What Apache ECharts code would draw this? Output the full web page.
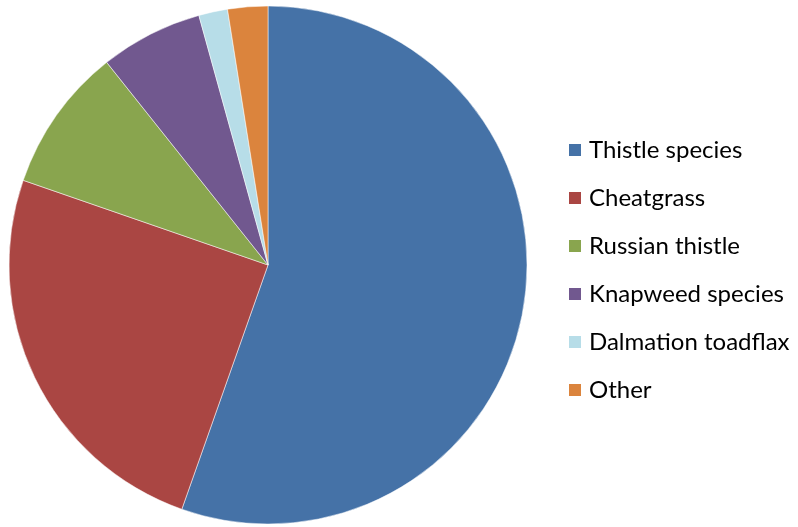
<!DOCTYPE html>
<html>
<head>
<meta charset="utf-8">
<script src="https://cdn.jsdelivr.net/npm/echarts@6/dist/echarts.min.js"></script>
<style>
  html, body { margin: 0; padding: 0; background: #fff; }
  #chart { width: 798px; height: 527px; }
</style>
</head>
<body>
<div id="chart"></div>
<script>
  // slice names and shares (percent)
  const categories = ['Thistle species', 'Cheatgrass', 'Russian thistle', 'Knapweed species', 'Dalmation toadflax', 'Other'];
  const values = [55.4, 24.9, 9.0, 6.4, 1.8, 2.5];
  const colors = ['#4572a7', '#aa4643', '#89a54e', '#71588f', '#b7dde8', '#db843d'];

  const chart = echarts.init(document.getElementById('chart'));
  chart.setOption({
    animation: false,
    color: colors,
    legend: {
      orient: 'vertical',
      left: 567,
      top: 138,
      padding: 0,
      itemWidth: 14,
      itemHeight: 14,
      itemGap: 24,
      icon: 'rect',
      textStyle: {
        fontFamily: 'Lato',
        fontSize: 24,
        lineHeight: 24,
        color: '#000',
        padding: [0, 0, 0, 2]
      },
      data: categories
    },
    series: [{
      type: 'pie',
      center: [268, 265],
      radius: 259,
      startAngle: 90,
      clockwise: true,
      label: { show: false },
      labelLine: { show: false },
      itemStyle: { borderColor: '#fff', borderWidth: 0.5 },
      emphasis: { disabled: true },
      data: categories.map((name, i) => ({ name: name, value: values[i] }))
    }]
  });
</script>
</body>
</html>
